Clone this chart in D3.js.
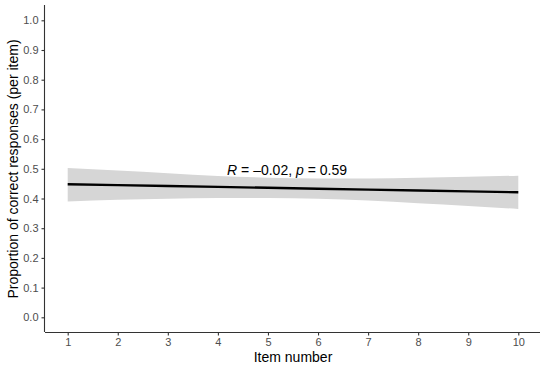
<!DOCTYPE html>
<html>
<head>
<meta charset="utf-8">
<script src="https://cdn.jsdelivr.net/npm/d3@7"></script>
<style>
  body { margin: 0; background: #fff; }
  text { font-family: "Liberation Sans", Arial, sans-serif; }
</style>
</head>
<body>
<div id="chart"></div>
<script>
// fitted line and confidence band
var items = [1, 2, 3, 4, 5, 6, 7, 8, 9, 10];
var fitted = [0.448, 0.445, 0.442, 0.439, 0.436, 0.433, 0.430, 0.427, 0.424, 0.421];
var upper = [0.503, 0.494, 0.485, 0.476, 0.470, 0.467, 0.467, 0.470, 0.473, 0.477];
var lower = [0.390, 0.396, 0.399, 0.402, 0.402, 0.399, 0.393, 0.384, 0.375, 0.365];
var yTicks = [0, 0.1, 0.2, 0.3, 0.4, 0.5, 0.6, 0.7, 0.8, 0.9, 1.0];

var width = 550, height = 369;

(function(){
  var svg = d3.select("#chart")
    .append("svg")
      .attr("width", width)
      .attr("height", height);

  var data = items.map(function(d, i) {
    return { item: d, fit: fitted[i], hi: upper[i], lo: lower[i] };
  });

  // scales: 1..10 sits inside the panel, 0..1 likewise
  var x = d3.scaleLinear().domain([1, 10]).range([67.7, 518.3]);
  var y = d3.scaleLinear().domain([0, 1]).range([317.3, 20.3]);

  // confidence band
  svg.append("path")
    .datum(data)
    .attr("fill", "#d6d6d6")
    .attr("d", d3.area()
      .x(function(d) { return x(d.item); })
      .y0(function(d) { return y(d.lo); })
      .y1(function(d) { return y(d.hi); })
      .curve(d3.curveMonotoneX));

  // regression line
  svg.append("path")
    .datum(data)
    .attr("fill", "none")
    .attr("stroke", "#000")
    .attr("stroke-width", 2.4)
    .attr("d", d3.line()
      .x(function(d) { return x(d.item); })
      .y(function(d) { return y(d.fit); }));

  ///////////////////////////////////////// X Axis
  var xAxis = svg.append("g")
    .attr("transform", "translate(0,332)")
    .call(d3.axisBottom(x).tickValues(items).tickSize(3.5).tickPadding(3).tickFormat(d3.format("d")));
  xAxis.select(".domain").attr("d", "M45,0.5H540").attr("stroke", "#333").attr("stroke-width", 1.1);
  xAxis.selectAll(".tick line").attr("stroke", "#333").attr("stroke-width", 1.1);
  xAxis.selectAll(".tick text").attr("fill", "#4d4d4d").style("font-size", "11px")
    .style("font-family", "'Liberation Sans', Arial, sans-serif");

  ///////////////////////////////////////// Y Axis
  var yAxis = svg.append("g")
    .attr("transform", "translate(45,0)")
    .call(d3.axisLeft(y).tickValues(yTicks).tickSize(3.5).tickPadding(3).tickFormat(d3.format(".1f")));
  yAxis.select(".domain").attr("d", "M-0.5,5V332").attr("stroke", "#333").attr("stroke-width", 1.1);
  yAxis.selectAll(".tick line").attr("stroke", "#333").attr("stroke-width", 1.1);
  yAxis.selectAll(".tick text").attr("fill", "#4d4d4d").style("font-size", "11px")
    .style("font-family", "'Liberation Sans', Arial, sans-serif");

  // axis titles
  svg.append("text")
    .attr("x", 293)
    .attr("y", 362)
    .style("text-anchor", "middle")
    .style("font-size", "14px")
    .attr("fill", "#000")
    .text("Item number");

  svg.append("text")
    .attr("transform", "translate(18,169) rotate(-90)")
    .style("text-anchor", "middle")
    .style("font-size", "14px")
    .attr("fill", "#000")
    .text("Proportion of correct responses (per item)");

  // correlation label
  var lab = svg.append("text")
    .attr("x", 287)
    .attr("y", 175)
    .style("text-anchor", "middle")
    .style("font-size", "14px")
    .attr("fill", "#000");
  lab.append("tspan").style("font-style", "italic").text("R");
  lab.append("tspan").text(" = \u20130.02, ");
  lab.append("tspan").style("font-style", "italic").text("p");
  lab.append("tspan").text(" = 0.59");
})();
</script>
</body>
</html>
